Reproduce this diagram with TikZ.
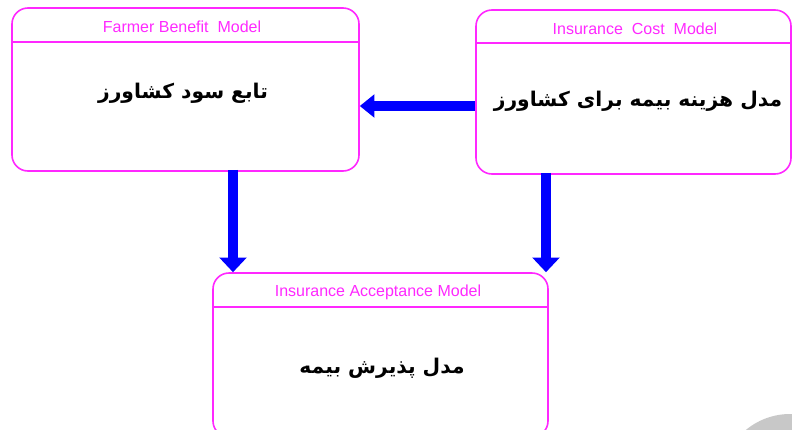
\documentclass[tikz,border=0pt]{standalone}
\usepackage{fontspec}
\setmainfont{Liberation Sans}
\newfontfamily\arabicfont[Script=Arabic]{DejaVu Sans}
\TeXXeTstate=1
\usetikzlibrary{arrows.meta, calc}

\definecolor{boxpink}{RGB}{255,40,255}
\definecolor{flowblue}{RGB}{0,0,255}

\tikzset{
  modelbox/.style={draw=boxpink, line width=1.2pt, rounded corners=12pt, inner sep=0pt},
  boxtitle/.style={text=boxpink, font=\fontsize{12}{14}\selectfont, inner sep=0.75pt},
  boxtext/.style={font=\arabicfont\bfseries\fontsize{15.2}{18}\selectfont, inner sep=0.75pt},
  flow/.style={draw=flowblue, line width=7.5pt, -{Triangle[width=20pt, length=11pt]}},
  sideflow/.style={flow, -{Triangle[width=17pt, length=11pt]}}
}

\begin{document}
\begin{tikzpicture}[x=0.75pt,y=0.75pt,yscale=-1,xscale=1]
\useasboundingbox (0,0) rectangle (792,429);
\clip (0,0) rectangle (792,429);

% page curl in the corner
\fill [color={rgb, 255:red, 200; green, 200; blue, 200 }] (790,483) circle [radius=69];

% Farmer benefit box
\node [modelbox, minimum width=260.25pt, minimum height=122.25pt] (benefit) at (185.5,89.5) {};
\draw [boxpink, line width=1.2pt] (benefit.west |- 0,42) -- (benefit.east |- 0,42);
\node [boxtitle] (benefittitle) at (182,27) {Farmer Benefit\ \ Model};
\node [boxtext] (benefittext) at (183,93) {\beginR تابع سود کشاورز\endR};

% Insurance cost box
\node [modelbox, minimum width=236.25pt, minimum height=123pt] (cost) at (633.5,92) {};
\draw [boxpink, line width=1.2pt] (cost.west |- 0,43) -- (cost.east |- 0,43);
\node [boxtitle] (costtitle) at (635,29) {Insurance\ \ Cost\ \ Model};
\node [boxtext] (costtext) at (638,101) {\beginR مدل هزینه بیمه برای کشاورز\endR};

% Insurance acceptance box
\node [modelbox, minimum width=251.25pt, minimum height=123pt] (accept) at (380.5,355) {};
\draw [boxpink, line width=1.2pt] (accept.west |- 0,307) -- (accept.east |- 0,307);
\node [boxtitle] (accepttitle) at (378,292) {Insurance Acceptance Model};
\node [boxtext] (accepttext) at (382,368) {\beginR مدل پذیرش بیمه\endR};

% arrows
\coordinate (costout) at ($(cost.west)+(0,14)$);
\draw [sideflow] (costout) -- (costout -| benefit.east);
\coordinate (benefitout) at ($(benefit.south)+(47.5,-2)$);
\draw [flow] (benefitout) -- (benefitout |- accept.north);
\coordinate (costdown) at ($(cost.south)+(-87.5,-2)$);
\draw [flow] (costdown) -- (costdown |- accept.north);

\end{tikzpicture}
\end{document}
